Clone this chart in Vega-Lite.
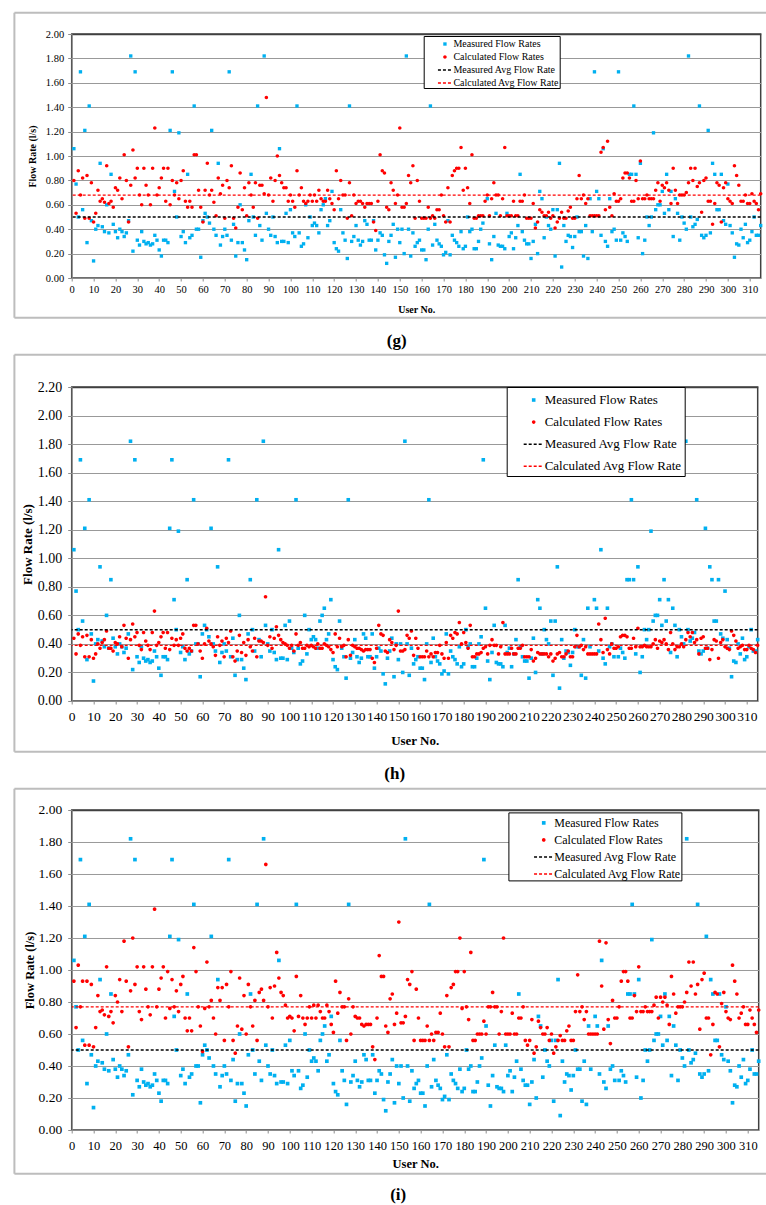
{
"$schema": "https://vega.github.io/schema/vega-lite/v6.json",
"background": "white",
"padding": {"top": 10, "left": 11.7, "right": 0, "bottom": 0},
"spacing": 109,
"bounds": "flush",
"resolve": {"scale": {"x": "independent", "y": "independent", "fill": "independent", "stroke": "independent", "shape": "independent", "strokeDash": "independent"}, "legend": {"fill": "independent", "stroke": "independent", "shape": "independent", "strokeDash": "independent"}},
"config": {
  "font": "Liberation Serif",
  "view": {"stroke": "#404040", "strokeWidth": 1.5},
  "axis": {"labelColor": "#000000", "titleColor": "#000000", "domainColor": "#8c8c8c", "tickColor": "#8c8c8c", "labelFont": "Liberation Serif", "titleFont": "Liberation Serif", "titleFontWeight": "bold", "gridColor": "#999999", "labelOverlap": false},
  "legend": {"labelFont": "Liberation Serif", "labelColor": "#000000"},
  "title": {"font": "Liberation Serif"}
},
"datasets": {"flow": [
{"u":1,"m":1.06,"g":0.80,"h":0.44,"i":0.93},
{"u":2,"m":0.77,"g":0.53,"h":0.33,"i":0.64},
{"u":3,"m":0.50,"g":0.88,"h":0.47,"i":1.03},
{"u":4,"m":1.69,"g":0.68,"h":0.39,"i":0.77},
{"u":5,"m":0.56,"g":0.82,"h":0.45,"i":0.93},
{"u":6,"m":1.21,"g":0.49,"h":0.31,"i":0.53},
{"u":7,"m":0.29,"g":0.84,"h":0.46,"i":0.93},
{"u":8,"m":1.41,"g":0.49,"h":0.31,"i":0.53},
{"u":9,"m":0.47,"g":0.78,"h":0.43,"i":0.91},
{"u":10,"m":0.14,"g":0.46,"h":0.30,"i":0.52},
{"u":11,"m":0.40,"g":0.53,"h":0.33,"i":0.64},
{"u":12,"m":0.43,"g":0.72,"h":0.40,"i":0.84},
{"u":13,"m":0.94,"g":0.63,"h":0.37,"i":0.74},
{"u":14,"m":0.42,"g":0.65,"h":0.41,"i":0.75},
{"u":15,"m":0.38,"g":0.62,"h":0.43,"i":0.72},
{"u":16,"m":0.60,"g":0.92,"h":0.49,"i":1.02},
{"u":17,"m":0.37,"g":0.61,"h":0.37,"i":0.71},
{"u":18,"m":0.85,"g":0.63,"h":0.37,"i":0.74},
{"u":19,"m":0.44,"g":0.58,"h":0.35,"i":0.67},
{"u":20,"m":0.38,"g":0.74,"h":0.41,"i":0.84},
{"u":21,"m":0.33,"g":0.72,"h":0.40,"i":0.80},
{"u":22,"m":0.40,"g":0.82,"h":0.45,"i":0.94},
{"u":23,"m":0.38,"g":0.65,"h":0.38,"i":0.74},
{"u":24,"m":0.34,"g":1.01,"h":0.53,"i":1.18},
{"u":25,"m":0.37,"g":0.80,"h":0.44,"i":0.93},
{"u":26,"m":0.47,"g":0.46,"h":0.30,"i":0.52},
{"u":27,"m":1.82,"g":0.76,"h":0.43,"i":0.87},
{"u":28,"m":0.22,"g":1.05,"h":0.54,"i":1.20},
{"u":29,"m":1.69,"g":0.82,"h":0.45,"i":0.91},
{"u":30,"m":0.31,"g":0.90,"h":0.48,"i":1.02},
{"u":31,"m":0.27,"g":0.68,"h":0.39,"i":0.74},
{"u":32,"m":0.38,"g":0.60,"h":0.36,"i":0.69},
{"u":33,"m":0.30,"g":0.90,"h":0.48,"i":1.02},
{"u":34,"m":0.28,"g":0.76,"h":0.42,"i":0.88},
{"u":35,"m":0.29,"g":0.68,"h":0.39,"i":0.77},
{"u":36,"m":0.27,"g":0.60,"h":0.36,"i":0.72},
{"u":37,"m":0.28,"g":0.90,"h":0.48,"i":1.02},
{"u":38,"m":0.35,"g":1.23,"h":0.63,"i":1.38},
{"u":39,"m":0.31,"g":0.68,"h":0.39,"i":0.77},
{"u":40,"m":0.23,"g":0.74,"h":0.41,"i":0.88},
{"u":41,"m":0.18,"g":0.82,"h":0.45,"i":0.95},
{"u":42,"m":0.31,"g":0.90,"h":0.48,"i":1.02},
{"u":43,"m":0.31,"g":0.63,"h":0.37,"i":0.70},
{"u":44,"m":0.29,"g":0.90,"h":0.48,"i":0.99},
{"u":45,"m":1.21,"g":0.60,"h":0.36,"i":0.76},
{"u":46,"m":1.69,"g":0.80,"h":0.44,"i":0.94},
{"u":47,"m":0.71,"g":0.68,"h":0.39,"i":0.77},
{"u":48,"m":0.50,"g":0.78,"h":0.43,"i":0.87},
{"u":49,"m":1.19,"g":0.65,"h":0.39,"i":0.74},
{"u":50,"m":0.34,"g":0.80,"h":0.44,"i":0.91},
{"u":51,"m":0.38,"g":0.88,"h":0.47,"i":0.96},
{"u":52,"m":0.29,"g":0.63,"h":0.37,"i":0.70},
{"u":53,"m":0.85,"g":0.58,"h":0.35,"i":0.62},
{"u":54,"m":0.33,"g":0.63,"h":0.37,"i":0.70},
{"u":55,"m":0.35,"g":0.58,"h":0.35,"i":0.62},
{"u":56,"m":1.41,"g":1.01,"h":0.53,"i":1.14},
{"u":57,"m":0.40,"g":1.01,"h":0.53,"i":0.99},
{"u":58,"m":0.40,"g":0.72,"h":0.40,"i":0.77},
{"u":59,"m":0.17,"g":0.58,"h":0.35,"i":0.65},
{"u":60,"m":0.47,"g":0.46,"h":0.30,"i":0.49},
{"u":61,"m":0.53,"g":0.72,"h":0.40,"i":0.76},
{"u":62,"m":0.50,"g":0.94,"h":0.51,"i":1.05},
{"u":63,"m":0.45,"g":0.68,"h":0.42,"i":0.77},
{"u":64,"m":1.21,"g":0.72,"h":0.40,"i":0.81},
{"u":65,"m":0.40,"g":0.62,"h":0.38,"i":0.70},
{"u":66,"m":0.35,"g":0.51,"h":0.32,"i":0.60},
{"u":67,"m":0.94,"g":0.82,"h":0.45,"i":0.89},
{"u":68,"m":0.27,"g":0.69,"h":0.39,"i":0.81},
{"u":69,"m":0.34,"g":0.76,"h":0.42,"i":0.89},
{"u":70,"m":0.40,"g":0.49,"h":0.31,"i":0.56},
{"u":71,"m":0.35,"g":0.80,"h":0.44,"i":0.91},
{"u":72,"m":1.69,"g":0.74,"h":0.41,"i":0.77},
{"u":73,"m":0.31,"g":0.92,"h":0.49,"i":0.99},
{"u":74,"m":0.44,"g":0.49,"h":0.31,"i":0.56},
{"u":75,"m":0.18,"g":0.41,"h":0.28,"i":0.48},
{"u":76,"m":0.29,"g":0.58,"h":0.35,"i":0.65},
{"u":77,"m":0.60,"g":0.86,"h":0.46,"i":0.95},
{"u":78,"m":0.29,"g":0.56,"h":0.34,"i":0.63},
{"u":79,"m":0.23,"g":0.74,"h":0.41,"i":0.84},
{"u":80,"m":0.15,"g":0.51,"h":0.32,"i":0.60},
{"u":81,"m":0.47,"g":0.78,"h":0.43,"i":0.91},
{"u":82,"m":0.85,"g":0.68,"h":0.38,"i":0.77},
{"u":83,"m":0.50,"g":0.58,"h":0.35,"i":0.65},
{"u":84,"m":0.35,"g":0.78,"h":0.44,"i":0.81},
{"u":85,"m":1.41,"g":0.49,"h":0.31,"i":0.56},
{"u":86,"m":0.43,"g":0.76,"h":0.42,"i":0.86},
{"u":87,"m":0.31,"g":0.76,"h":0.42,"i":0.88},
{"u":88,"m":1.82,"g":0.69,"h":0.41,"i":0.81},
{"u":89,"m":0.53,"g":1.48,"h":0.73,"i":1.66},
{"u":90,"m":0.40,"g":0.68,"h":0.39,"i":0.77},
{"u":91,"m":0.35,"g":0.82,"h":0.45,"i":0.89},
{"u":92,"m":0.50,"g":0.63,"h":0.37,"i":0.70},
{"u":93,"m":0.34,"g":0.80,"h":0.44,"i":0.90},
{"u":94,"m":0.29,"g":1.00,"h":0.52,"i":1.11},
{"u":95,"m":1.06,"g":0.84,"h":0.46,"i":0.95},
{"u":96,"m":0.30,"g":0.78,"h":0.43,"i":0.86},
{"u":97,"m":0.30,"g":0.74,"h":0.41,"i":0.84},
{"u":98,"m":0.53,"g":0.74,"h":0.40,"i":0.78},
{"u":99,"m":0.29,"g":0.63,"h":0.39,"i":0.70},
{"u":100,"m":0.56,"g":0.68,"h":0.37,"i":0.71},
{"u":101,"m":0.37,"g":0.63,"h":0.39,"i":0.70},
{"u":102,"m":0.34,"g":0.58,"h":0.35,"i":0.62},
{"u":103,"m":1.41,"g":0.88,"h":0.47,"i":0.96},
{"u":104,"m":0.37,"g":0.68,"h":0.39,"i":0.71},
{"u":105,"m":0.26,"g":0.74,"h":0.41,"i":0.84},
{"u":106,"m":0.28,"g":0.63,"h":0.37,"i":0.70},
{"u":107,"m":0.60,"g":0.61,"h":0.37,"i":0.66},
{"u":108,"m":0.33,"g":0.63,"h":0.39,"i":0.70},
{"u":109,"m":0.50,"g":0.68,"h":0.38,"i":0.77},
{"u":110,"m":0.43,"g":0.63,"h":0.39,"i":0.70},
{"u":111,"m":0.45,"g":0.68,"h":0.38,"i":0.78},
{"u":112,"m":0.43,"g":0.63,"h":0.37,"i":0.70},
{"u":113,"m":0.37,"g":0.72,"h":0.40,"i":0.78},
{"u":114,"m":0.56,"g":0.65,"h":0.37,"i":0.74},
{"u":115,"m":0.60,"g":0.63,"h":0.37,"i":0.70},
{"u":116,"m":0.65,"g":0.63,"h":0.40,"i":0.70},
{"u":117,"m":0.43,"g":0.72,"h":0.39,"i":0.78},
{"u":118,"m":0.47,"g":0.65,"h":0.38,"i":0.74},
{"u":119,"m":0.71,"g":0.61,"h":0.36,"i":0.66},
{"u":120,"m":0.29,"g":0.56,"h":0.34,"i":0.61},
{"u":121,"m":0.24,"g":0.88,"h":0.47,"i":0.93},
{"u":122,"m":0.22,"g":0.65,"h":0.38,"i":0.73},
{"u":123,"m":0.56,"g":0.80,"h":0.44,"i":0.86},
{"u":124,"m":0.37,"g":0.68,"h":0.38,"i":0.77},
{"u":125,"m":0.31,"g":0.68,"h":0.39,"i":0.77},
{"u":126,"m":0.16,"g":0.49,"h":0.31,"i":0.56},
{"u":127,"m":1.41,"g":0.78,"h":0.43,"i":0.82},
{"u":128,"m":0.30,"g":0.51,"h":0.32,"i":0.60},
{"u":129,"m":0.34,"g":0.68,"h":0.39,"i":0.77},
{"u":130,"m":0.43,"g":0.61,"h":0.38,"i":0.71},
{"u":131,"m":0.31,"g":0.63,"h":0.37,"i":0.70},
{"u":132,"m":0.27,"g":0.63,"h":0.37,"i":0.70},
{"u":133,"m":0.30,"g":0.61,"h":0.36,"i":0.66},
{"u":134,"m":0.47,"g":0.58,"h":0.35,"i":0.65},
{"u":135,"m":0.44,"g":0.61,"h":0.36,"i":0.66},
{"u":136,"m":0.31,"g":0.61,"h":0.36,"i":0.66},
{"u":137,"m":0.31,"g":0.61,"h":0.36,"i":0.66},
{"u":138,"m":0.47,"g":0.46,"h":0.30,"i":0.52},
{"u":139,"m":0.23,"g":0.39,"h":0.27,"i":0.44},
{"u":140,"m":0.31,"g":0.63,"h":0.37,"i":0.70},
{"u":141,"m":0.37,"g":1.01,"h":0.53,"i":1.09},
{"u":142,"m":0.35,"g":0.88,"h":0.47,"i":0.96},
{"u":143,"m":0.19,"g":0.86,"h":0.46,"i":0.96},
{"u":144,"m":0.12,"g":0.58,"h":0.35,"i":0.65},
{"u":145,"m":0.30,"g":0.56,"h":0.34,"i":0.61},
{"u":146,"m":0.35,"g":0.78,"h":0.43,"i":0.82},
{"u":147,"m":0.44,"g":0.72,"h":0.41,"i":0.85},
{"u":148,"m":0.17,"g":0.61,"h":0.36,"i":0.66},
{"u":149,"m":0.40,"g":0.68,"h":0.39,"i":0.73},
{"u":150,"m":0.29,"g":1.23,"h":0.63,"i":1.30},
{"u":151,"m":0.40,"g":0.58,"h":0.35,"i":0.67},
{"u":152,"m":0.20,"g":0.58,"h":0.35,"i":0.67},
{"u":153,"m":1.82,"g":0.61,"h":0.36,"i":0.71},
{"u":154,"m":0.40,"g":0.84,"h":0.46,"i":0.94},
{"u":155,"m":0.18,"g":0.78,"h":0.44,"i":0.91},
{"u":156,"m":0.37,"g":0.92,"h":0.49,"i":0.99},
{"u":157,"m":0.26,"g":0.49,"h":0.32,"i":0.56},
{"u":158,"m":0.29,"g":0.80,"h":0.44,"i":0.88},
{"u":159,"m":0.31,"g":0.63,"h":0.37,"i":0.70},
{"u":160,"m":0.23,"g":0.49,"h":0.31,"i":0.56},
{"u":161,"m":0.23,"g":0.49,"h":0.31,"i":0.56},
{"u":162,"m":0.15,"g":0.49,"h":0.31,"i":0.56},
{"u":163,"m":0.40,"g":0.58,"h":0.35,"i":0.65},
{"u":164,"m":1.41,"g":0.49,"h":0.31,"i":0.56},
{"u":165,"m":0.27,"g":0.51,"h":0.33,"i":0.60},
{"u":166,"m":0.44,"g":0.49,"h":0.31,"i":0.56},
{"u":167,"m":0.31,"g":0.56,"h":0.34,"i":0.61},
{"u":168,"m":0.28,"g":0.56,"h":0.34,"i":0.61},
{"u":169,"m":0.26,"g":0.68,"h":0.39,"i":0.73},
{"u":170,"m":0.19,"g":0.51,"h":0.33,"i":0.60},
{"u":171,"m":0.21,"g":0.46,"h":0.30,"i":0.52},
{"u":172,"m":0.47,"g":0.74,"h":0.41,"i":0.84},
{"u":173,"m":0.19,"g":0.46,"h":0.30,"i":0.52},
{"u":174,"m":0.35,"g":0.84,"h":0.46,"i":0.89},
{"u":175,"m":0.31,"g":0.88,"h":0.44,"i":0.91},
{"u":176,"m":0.29,"g":0.90,"h":0.48,"i":0.99},
{"u":177,"m":0.26,"g":0.90,"h":0.47,"i":0.99},
{"u":178,"m":0.38,"g":1.07,"h":0.55,"i":1.20},
{"u":179,"m":0.24,"g":0.72,"h":0.40,"i":0.76},
{"u":180,"m":0.26,"g":0.90,"h":0.48,"i":0.99},
{"u":181,"m":0.50,"g":0.74,"h":0.41,"i":0.77},
{"u":182,"m":0.38,"g":0.61,"h":0.37,"i":0.69},
{"u":183,"m":0.40,"g":1.01,"h":0.53,"i":1.11},
{"u":184,"m":0.24,"g":0.49,"h":0.31,"i":0.56},
{"u":185,"m":0.24,"g":0.49,"h":0.31,"i":0.56},
{"u":186,"m":0.30,"g":0.51,"h":0.33,"i":0.60},
{"u":187,"m":0.40,"g":0.51,"h":0.33,"i":0.60},
{"u":188,"m":0.45,"g":0.51,"h":0.34,"i":0.60},
{"u":189,"m":1.69,"g":0.63,"h":0.37,"i":0.68},
{"u":190,"m":0.65,"g":0.68,"h":0.38,"i":0.60},
{"u":191,"m":0.28,"g":0.51,"h":0.33,"i":0.77},
{"u":192,"m":0.15,"g":0.65,"h":0.39,"i":0.77},
{"u":193,"m":0.34,"g":0.78,"h":0.43,"i":0.86},
{"u":194,"m":0.53,"g":0.68,"h":0.39,"i":0.77},
{"u":195,"m":0.27,"g":0.68,"h":0.39,"i":0.77},
{"u":196,"m":0.26,"g":0.51,"h":0.33,"i":0.60},
{"u":197,"m":0.26,"g":0.65,"h":0.38,"i":0.74},
{"u":198,"m":0.24,"g":1.07,"h":0.55,"i":1.20},
{"u":199,"m":0.53,"g":0.51,"h":0.33,"i":0.60},
{"u":200,"m":0.34,"g":0.51,"h":0.33,"i":0.60},
{"u":201,"m":0.37,"g":0.51,"h":0.33,"i":0.60},
{"u":202,"m":0.24,"g":0.63,"h":0.37,"i":0.73},
{"u":203,"m":0.33,"g":0.51,"h":0.33,"i":0.60},
{"u":204,"m":0.43,"g":0.51,"h":0.33,"i":0.60},
{"u":205,"m":0.85,"g":0.63,"h":0.37,"i":0.70},
{"u":206,"m":0.38,"g":0.63,"h":0.37,"i":0.70},
{"u":207,"m":0.31,"g":0.68,"h":0.39,"i":0.77},
{"u":208,"m":0.28,"g":0.49,"h":0.31,"i":0.56},
{"u":209,"m":0.28,"g":0.49,"h":0.31,"i":0.53},
{"u":210,"m":0.16,"g":0.49,"h":0.31,"i":0.56},
{"u":211,"m":0.30,"g":0.61,"h":0.36,"i":0.69},
{"u":212,"m":0.44,"g":0.41,"h":0.28,"i":0.48},
{"u":213,"m":0.20,"g":0.46,"h":0.30,"i":0.52},
{"u":214,"m":0.71,"g":0.56,"h":0.34,"i":0.68},
{"u":215,"m":0.65,"g":0.54,"h":0.33,"i":0.64},
{"u":216,"m":0.33,"g":0.51,"h":0.33,"i":0.60},
{"u":217,"m":0.50,"g":0.51,"h":0.33,"i":0.60},
{"u":218,"m":0.43,"g":0.54,"h":0.33,"i":0.64},
{"u":219,"m":0.40,"g":0.49,"h":0.31,"i":0.56},
{"u":220,"m":0.56,"g":0.51,"h":0.33,"i":0.60},
{"u":221,"m":0.18,"g":0.41,"h":0.28,"i":0.48},
{"u":222,"m":0.56,"g":0.46,"h":0.30,"i":0.52},
{"u":223,"m":0.94,"g":0.49,"h":0.33,"i":0.56},
{"u":224,"m":0.09,"g":0.54,"h":0.34,"i":0.59},
{"u":225,"m":0.43,"g":0.49,"h":0.31,"i":0.56},
{"u":226,"m":0.30,"g":0.49,"h":0.31,"i":0.56},
{"u":227,"m":0.35,"g":0.55,"h":0.33,"i":0.62},
{"u":228,"m":0.34,"g":0.58,"h":0.35,"i":0.65},
{"u":229,"m":0.25,"g":0.49,"h":0.31,"i":0.56},
{"u":230,"m":0.34,"g":0.49,"h":0.31,"i":0.56},
{"u":231,"m":0.50,"g":0.65,"h":0.38,"i":0.74},
{"u":232,"m":0.38,"g":0.84,"h":0.46,"i":0.97},
{"u":233,"m":0.38,"g":0.65,"h":0.38,"i":0.74},
{"u":234,"m":0.18,"g":0.68,"h":0.39,"i":0.77},
{"u":235,"m":0.43,"g":0.61,"h":0.36,"i":0.69},
{"u":236,"m":0.16,"g":0.65,"h":0.38,"i":0.74},
{"u":237,"m":0.65,"g":0.51,"h":0.33,"i":0.60},
{"u":238,"m":0.38,"g":0.51,"h":0.33,"i":0.60},
{"u":239,"m":1.69,"g":0.51,"h":0.33,"i":0.60},
{"u":240,"m":0.71,"g":0.51,"h":0.33,"i":0.60},
{"u":241,"m":0.65,"g":0.51,"h":0.33,"i":0.60},
{"u":242,"m":0.35,"g":1.03,"h":0.54,"i":1.18},
{"u":243,"m":1.06,"g":1.07,"h":0.43,"i":0.90},
{"u":244,"m":0.30,"g":0.56,"h":0.34,"i":0.63},
{"u":245,"m":0.26,"g":1.12,"h":0.58,"i":1.17},
{"u":246,"m":0.65,"g":0.58,"h":0.36,"i":0.69},
{"u":247,"m":0.38,"g":0.51,"h":0.33,"i":0.54},
{"u":248,"m":0.40,"g":0.69,"h":0.40,"i":0.81},
{"u":249,"m":0.31,"g":0.63,"h":0.37,"i":0.70},
{"u":250,"m":1.69,"g":0.63,"h":0.37,"i":0.70},
{"u":251,"m":0.31,"g":0.65,"h":0.38,"i":0.77},
{"u":252,"m":0.37,"g":0.82,"h":0.45,"i":0.93},
{"u":253,"m":0.34,"g":0.86,"h":0.46,"i":0.99},
{"u":254,"m":0.30,"g":0.86,"h":0.46,"i":0.99},
{"u":255,"m":0.85,"g":0.82,"h":0.45,"i":0.93},
{"u":256,"m":0.85,"g":0.63,"h":0.37,"i":0.70},
{"u":257,"m":1.41,"g":0.63,"h":0.37,"i":0.70},
{"u":258,"m":0.85,"g":0.80,"h":0.44,"i":0.84},
{"u":259,"m":0.33,"g":0.65,"h":0.38,"i":0.74},
{"u":260,"m":0.94,"g":0.96,"h":0.51,"i":1.02},
{"u":261,"m":0.20,"g":0.65,"h":0.38,"i":0.74},
{"u":262,"m":0.31,"g":0.65,"h":0.38,"i":0.74},
{"u":263,"m":0.50,"g":0.68,"h":0.39,"i":0.77},
{"u":264,"m":0.43,"g":0.65,"h":0.38,"i":0.74},
{"u":265,"m":0.50,"g":0.65,"h":0.38,"i":0.74},
{"u":266,"m":1.19,"g":0.65,"h":0.38,"i":0.74},
{"u":267,"m":0.56,"g":0.72,"h":0.40,"i":0.78},
{"u":268,"m":0.60,"g":0.78,"h":0.43,"i":0.83},
{"u":269,"m":0.60,"g":0.63,"h":0.37,"i":0.70},
{"u":270,"m":0.71,"g":0.76,"h":0.42,"i":0.83},
{"u":271,"m":0.53,"g":0.74,"h":0.41,"i":0.80},
{"u":272,"m":0.85,"g":0.78,"h":0.43,"i":0.83},
{"u":273,"m":0.56,"g":0.72,"h":0.40,"i":0.78},
{"u":274,"m":0.71,"g":0.61,"h":0.36,"i":0.66},
{"u":275,"m":0.34,"g":0.90,"h":0.48,"i":0.96},
{"u":276,"m":0.65,"g":0.72,"h":0.40,"i":0.85},
{"u":277,"m":0.53,"g":0.61,"h":0.36,"i":0.73},
{"u":278,"m":0.31,"g":0.68,"h":0.38,"i":0.77},
{"u":279,"m":0.50,"g":0.68,"h":0.38,"i":0.77},
{"u":280,"m":0.45,"g":0.68,"h":0.40,"i":0.77},
{"u":281,"m":0.40,"g":0.70,"h":0.38,"i":0.80},
{"u":282,"m":1.82,"g":0.78,"h":0.43,"i":0.86},
{"u":283,"m":0.50,"g":0.90,"h":0.48,"i":1.05},
{"u":284,"m":0.42,"g":0.80,"h":0.45,"i":0.90},
{"u":285,"m":0.44,"g":0.90,"h":0.48,"i":1.05},
{"u":286,"m":0.48,"g":0.75,"h":0.41,"i":0.85},
{"u":287,"m":1.41,"g":0.78,"h":0.43,"i":0.91},
{"u":288,"m":0.35,"g":0.54,"h":0.33,"i":0.63},
{"u":289,"m":0.33,"g":0.80,"h":0.44,"i":0.94},
{"u":290,"m":0.35,"g":0.82,"h":0.45,"i":0.98},
{"u":291,"m":1.21,"g":0.63,"h":0.37,"i":0.70},
{"u":292,"m":0.37,"g":0.63,"h":0.37,"i":0.70},
{"u":293,"m":0.94,"g":0.44,"h":0.29,"i":0.47},
{"u":294,"m":0.85,"g":0.61,"h":0.36,"i":0.66},
{"u":295,"m":0.56,"g":0.78,"h":0.43,"i":0.86},
{"u":296,"m":0.56,"g":0.76,"h":0.42,"i":0.85},
{"u":297,"m":0.85,"g":0.46,"h":0.30,"i":0.52},
{"u":298,"m":0.47,"g":0.74,"h":0.41,"i":0.79},
{"u":299,"m":0.44,"g":0.78,"h":0.43,"i":0.86},
{"u":300,"m":0.77,"g":0.65,"h":0.38,"i":0.74},
{"u":301,"m":0.43,"g":0.63,"h":0.37,"i":0.70},
{"u":302,"m":0.37,"g":0.61,"h":0.36,"i":0.69},
{"u":303,"m":0.17,"g":0.92,"h":0.49,"i":1.03},
{"u":304,"m":0.28,"g":0.84,"h":0.46,"i":0.93},
{"u":305,"m":0.27,"g":0.76,"h":0.42,"i":0.85},
{"u":306,"m":0.40,"g":0.63,"h":0.37,"i":0.70},
{"u":307,"m":0.33,"g":0.63,"h":0.38,"i":0.73},
{"u":308,"m":0.44,"g":0.68,"h":0.39,"i":0.77},
{"u":309,"m":0.29,"g":0.61,"h":0.36,"i":0.66},
{"u":310,"m":0.31,"g":0.61,"h":0.36,"i":0.66},
{"u":311,"m":0.38,"g":0.69,"h":0.39,"i":0.75},
{"u":312,"m":0.50,"g":0.63,"h":0.37,"i":0.70},
{"u":313,"m":0.35,"g":0.61,"h":0.36,"i":0.66},
{"u":314,"m":0.35,"g":0.56,"h":0.34,"i":0.61},
{"u":315,"m":0.43,"g":0.69,"h":0.39,"i":0.75}
]},
"vconcat": [
{
  "width": 689, "height": 244,
  "data": {"name": "flow"},
  "title": {"text": "(g)", "orient": "bottom", "frame": "group", "anchor": "middle", "dx": -19.5, "offset": 14, "fontSize": 17, "fontWeight": "bold", "font": "Liberation Serif", "color": "#000000"},
  "layer": [
    {"mark": {"type": "point", "filled": true, "opacity": 1, "size": 196},
     "encoding": {
       "x": {"field": "u", "type": "quantitative", "scale": {"domain": [0, 315], "nice": false, "zero": false},
             "axis": {"title": "User No.", "values": [0,10,20,30,40,50,60,70,80,90,100,110,120,130,140,150,160,170,180,190,200,210,220,230,240,250,260,270,280,290,300,310], "tickCount": 40, "grid": false, "tickSize": 3, "labelPadding": 3, "labelFont": "Liberation Serif", "titleFont": "Liberation Serif", "labelFontSize": 10.5, "titleFontSize": 10, "titlePadding": 10, "labelOverlap": false, "labelFlush": false}},
       "y": {"field": "m", "type": "quantitative", "scale": {"domain": [0, 2], "nice": false},
             "axis": {"title": "Flow Rate (l/s)", "values": [0,0.2,0.4,0.6,0.8,1,1.2,1.4,1.6,1.8,2], "tickCount": 20, "format": ".2f", "tickSize": 4, "labelPadding": 4, "labelFont": "Liberation Serif", "titleFont": "Liberation Serif", "labelFontSize": 10.5, "titleFontSize": 10, "titlePadding": 8, "labelOverlap": false,
                      "gridColor": {"condition": {"test": "datum.value >= 1.99", "value": "#404040"}, "value": "#999999"},
                      "gridWidth": {"condition": {"test": "datum.value >= 1.99", "value": 1.5}, "value": 1}}},
       "fill": {"datum": "Measured Flow Rates",
                "scale": {"domain": ["Measured Flow Rates", "Calculated Flow Rates", "Measured Avg Flow Rate", "Calculated Avg Flow Rate"], "range": ["#00B0F0", "#FF0000", "transparent", "transparent"]},
                "legend": {"title": "\u00a0", "titleOrient": "left", "titleFontSize": 1, "titlePadding": 13.25, "orient": "none", "legendX": 352, "legendY": 2, "fillColor": "#ffffff", "strokeColor": "#000000", "padding": 0, "symbolSize": 196, "symbolStrokeWidth": 1.5, "symbolOpacity": 1, "labelOffset": 0.5, "rowPadding": 0, "labelFontSize": 10, "labelLimit": 400}},
       "shape": {"datum": "Measured Flow Rates",
                 "scale": {"domain": ["Measured Flow Rates", "Calculated Flow Rates", "Measured Avg Flow Rate", "Calculated Avg Flow Rate"], "range": ["M-0.24,-0.24H0.24V0.24H-0.24Z", "M0.25,0A0.25,0.25,0,1,1,-0.25,0A0.25,0.25,0,1,1,0.25,0Z", "stroke", "stroke"]},
                 "legend": {"title": "\u00a0", "titleOrient": "left", "titleFontSize": 1, "titlePadding": 13.25, "orient": "none", "legendX": 352, "legendY": 2, "fillColor": "#ffffff", "strokeColor": "#000000", "padding": 0, "symbolSize": 196, "symbolStrokeWidth": 1.5, "symbolOpacity": 1, "labelOffset": 0.5, "rowPadding": 0, "labelFontSize": 10, "labelLimit": 400}}
     }},
    {"mark": {"type": "point", "filled": true, "opacity": 1, "size": 196},
     "encoding": {"x": {"field": "u", "type": "quantitative"}, "y": {"field": "g", "type": "quantitative"},
                  "fill": {"datum": "Calculated Flow Rates"}, "shape": {"datum": "Calculated Flow Rates"}}},
    {"data": {"values": [{"avg": 0.50}]}, "mark": {"type": "rule", "strokeWidth": 1.5},
     "encoding": {"y": {"field": "avg", "type": "quantitative"},
                  "stroke": {"datum": "Measured Avg Flow Rate", "scale": {"domain": ["Measured Flow Rates", "Calculated Flow Rates", "Measured Avg Flow Rate", "Calculated Avg Flow Rate"], "range": ["transparent", "transparent", "#000000", "#FF0000"]},
                             "legend": {"title": "\u00a0", "titleOrient": "left", "titleFontSize": 1, "titlePadding": 13.25, "orient": "none", "legendX": 352, "legendY": 2, "fillColor": "#ffffff", "strokeColor": "#000000", "padding": 0, "symbolSize": 196, "symbolStrokeWidth": 1.5, "symbolOpacity": 1, "labelOffset": 0.5, "rowPadding": 0, "labelFontSize": 10, "labelLimit": 400}},
                  "strokeDash": {"datum": "Measured Avg Flow Rate", "scale": {"domain": ["Measured Flow Rates", "Calculated Flow Rates", "Measured Avg Flow Rate", "Calculated Avg Flow Rate"], "range": [[1, 0], [1, 0], [3, 2], [3, 2]]},
                             "legend": {"title": "\u00a0", "titleOrient": "left", "titleFontSize": 1, "titlePadding": 13.25, "orient": "none", "legendX": 352, "legendY": 2, "fillColor": "#ffffff", "strokeColor": "#000000", "padding": 0, "symbolSize": 196, "symbolStrokeWidth": 1.5, "symbolOpacity": 1, "labelOffset": 0.5, "rowPadding": 0, "labelFontSize": 10, "labelLimit": 400}}}},
    {"data": {"values": [{"avg": 0.68}]}, "mark": {"type": "rule", "strokeWidth": 1.2},
     "encoding": {"y": {"field": "avg", "type": "quantitative"},
                  "stroke": {"datum": "Calculated Avg Flow Rate"}, "strokeDash": {"datum": "Calculated Avg Flow Rate"}}},
    {"data": {"values": [{}]}, "mark": {"type": "rule", "color": "#bdbdbd", "strokeWidth": 2},
     "encoding": {"x": {"datum": -26.2}, "x2": {"datum": 317.88}, "y": {"datum": 2.1746}}},
    {"data": {"values": [{}]}, "mark": {"type": "rule", "color": "#bdbdbd", "strokeWidth": 2},
     "encoding": {"x": {"datum": -26.2}, "x2": {"datum": 317.88}, "y": {"datum": -0.3254}}},
    {"data": {"values": [{}]}, "mark": {"type": "rule", "color": "#bdbdbd", "strokeWidth": 2},
     "encoding": {"x": {"datum": -26.2}, "y": {"datum": -0.3254}, "y2": {"datum": 2.1746}}}
  ]
},
{
  "width": 686, "height": 314,
  "data": {"name": "flow"},
  "title": {"text": "(h)", "orient": "bottom", "frame": "group", "anchor": "middle", "dx": -20, "offset": 13, "fontSize": 17, "fontWeight": "bold", "font": "Liberation Serif", "color": "#000000"},
  "layer": [
    {"mark": {"type": "point", "filled": true, "opacity": 1, "size": 400},
     "encoding": {
       "x": {"field": "u", "type": "quantitative", "scale": {"domain": [0, 315], "nice": false, "zero": false},
             "axis": {"title": "User No.", "values": [0,10,20,30,40,50,60,70,80,90,100,110,120,130,140,150,160,170,180,190,200,210,220,230,240,250,260,270,280,290,300,310], "tickCount": 40, "grid": false, "tickSize": 3, "labelPadding": 6, "labelFont": "Liberation Serif", "titleFont": "Liberation Serif", "labelFontSize": 13.5, "titleFontSize": 13, "titlePadding": 11, "labelOverlap": false, "labelFlush": false}},
       "y": {"field": "m", "type": "quantitative", "scale": {"domain": [0, 2.2], "nice": false},
             "axis": {"title": "Flow Rate (l/s)", "values": [0,0.2,0.4,0.6,0.8,1,1.2,1.4,1.6,1.8,2,2.2], "tickCount": 20, "format": ".2f", "tickSize": 4, "labelPadding": 6, "labelFont": "Liberation Serif", "titleFont": "Liberation Serif", "labelFontSize": 14, "titleFontSize": 13, "titlePadding": 3, "labelOverlap": false,
                      "gridColor": {"condition": {"test": "datum.value >= 2.19", "value": "#404040"}, "value": "#999999"},
                      "gridWidth": {"condition": {"test": "datum.value >= 2.19", "value": 1.5}, "value": 1}}},
       "fill": {"datum": "Measured Flow Rates",
                "scale": {"domain": ["Measured Flow Rates", "Calculated Flow Rates", "Measured Avg Flow Rate", "Calculated Avg Flow Rate"], "range": ["#00B0F0", "#FF0000", "transparent", "transparent"]},
                "legend": {"title": "\u00a0", "titleOrient": "left", "titleFontSize": 1, "titlePadding": 14, "orient": "none", "legendX": 435, "legendY": 0, "fillColor": "#ffffff", "strokeColor": "#000000", "padding": 2, "symbolSize": 400, "symbolStrokeWidth": 1.5, "symbolOpacity": 1, "labelOffset": 0, "rowPadding": 4.1, "labelFontSize": 13, "labelLimit": 400}},
       "shape": {"datum": "Measured Flow Rates",
                 "scale": {"domain": ["Measured Flow Rates", "Calculated Flow Rates", "Measured Avg Flow Rate", "Calculated Avg Flow Rate"], "range": ["M-0.18,-0.18H0.18V0.18H-0.18Z", "M0.18,0A0.18,0.18,0,1,1,-0.18,0A0.18,0.18,0,1,1,0.18,0Z", "stroke", "stroke"]},
                 "legend": {"title": "\u00a0", "titleOrient": "left", "titleFontSize": 1, "titlePadding": 14, "orient": "none", "legendX": 435, "legendY": 0, "fillColor": "#ffffff", "strokeColor": "#000000", "padding": 2, "symbolSize": 400, "symbolStrokeWidth": 1.5, "symbolOpacity": 1, "labelOffset": 0, "rowPadding": 4.1, "labelFontSize": 13, "labelLimit": 400}}
     }},
    {"mark": {"type": "point", "filled": true, "opacity": 1, "size": 400},
     "encoding": {"x": {"field": "u", "type": "quantitative"}, "y": {"field": "h", "type": "quantitative"},
                  "fill": {"datum": "Calculated Flow Rates"}, "shape": {"datum": "Calculated Flow Rates"}}},
    {"data": {"values": [{"avg": 0.50}]}, "mark": {"type": "rule", "strokeWidth": 1.5},
     "encoding": {"y": {"field": "avg", "type": "quantitative"},
                  "stroke": {"datum": "Measured Avg Flow Rate", "scale": {"domain": ["Measured Flow Rates", "Calculated Flow Rates", "Measured Avg Flow Rate", "Calculated Avg Flow Rate"], "range": ["transparent", "transparent", "#000000", "#FF0000"]},
                             "legend": {"title": "\u00a0", "titleOrient": "left", "titleFontSize": 1, "titlePadding": 14, "orient": "none", "legendX": 435, "legendY": 0, "fillColor": "#ffffff", "strokeColor": "#000000", "padding": 2, "symbolSize": 400, "symbolStrokeWidth": 1.5, "symbolOpacity": 1, "labelOffset": 0, "rowPadding": 4.1, "labelFontSize": 13, "labelLimit": 400}},
                  "strokeDash": {"datum": "Measured Avg Flow Rate", "scale": {"domain": ["Measured Flow Rates", "Calculated Flow Rates", "Measured Avg Flow Rate", "Calculated Avg Flow Rate"], "range": [[1, 0], [1, 0], [3, 2], [3, 2]]},
                             "legend": {"title": "\u00a0", "titleOrient": "left", "titleFontSize": 1, "titlePadding": 14, "orient": "none", "legendX": 435, "legendY": 0, "fillColor": "#ffffff", "strokeColor": "#000000", "padding": 2, "symbolSize": 400, "symbolStrokeWidth": 1.5, "symbolOpacity": 1, "labelOffset": 0, "rowPadding": 4.1, "labelFontSize": 13, "labelLimit": 400}}}},
    {"data": {"values": [{"avg": 0.39}]}, "mark": {"type": "rule", "strokeWidth": 1.2},
     "encoding": {"y": {"field": "avg", "type": "quantitative"},
                  "stroke": {"datum": "Calculated Avg Flow Rate"}, "strokeDash": {"datum": "Calculated Avg Flow Rate"}}},
    {"data": {"values": [{}]}, "mark": {"type": "rule", "color": "#bdbdbd", "strokeWidth": 2},
     "encoding": {"x": {"datum": -26.31}, "x2": {"datum": 319.27}, "y": {"datum": 2.426}}},
    {"data": {"values": [{}]}, "mark": {"type": "rule", "color": "#bdbdbd", "strokeWidth": 2},
     "encoding": {"x": {"datum": -26.31}, "x2": {"datum": 319.27}, "y": {"datum": -0.3552}}},
    {"data": {"values": [{}]}, "mark": {"type": "rule", "color": "#bdbdbd", "strokeWidth": 2},
     "encoding": {"x": {"datum": -26.31}, "y": {"datum": -0.3552}, "y2": {"datum": 2.426}}}
  ]
},
{
  "width": 687, "height": 320,
  "data": {"name": "flow"},
  "title": {"text": "(i)", "orient": "bottom", "frame": "group", "anchor": "middle", "dx": -17, "offset": 12.5, "fontSize": 17, "fontWeight": "bold", "font": "Liberation Serif", "color": "#000000"},
  "layer": [
    {"mark": {"type": "point", "filled": true, "opacity": 1, "size": 376},
     "encoding": {
       "x": {"field": "u", "type": "quantitative", "scale": {"domain": [0, 315], "nice": false, "zero": false},
             "axis": {"title": "User No.", "values": [0,10,20,30,40,50,60,70,80,90,100,110,120,130,140,150,160,170,180,190,200,210,220,230,240,250,260,270,280,290,300,310], "tickCount": 40, "grid": false, "tickSize": 3, "labelPadding": 7, "labelFont": "Liberation Serif", "titleFont": "Liberation Serif", "labelFontSize": 12.5, "titleFontSize": 12.5, "titlePadding": 5, "labelOverlap": false, "labelFlush": false}},
       "y": {"field": "m", "type": "quantitative", "scale": {"domain": [0, 2], "nice": false},
             "axis": {"title": "Flow Rate (l/s)", "values": [0,0.2,0.4,0.6,0.8,1,1.2,1.4,1.6,1.8,2], "tickCount": 20, "format": ".2f", "tickSize": 4, "labelPadding": 6, "labelFont": "Liberation Serif", "titleFont": "Liberation Serif", "labelFontSize": 13.5, "titleFontSize": 12.5, "titlePadding": 2, "labelOverlap": false,
                      "gridColor": {"condition": {"test": "datum.value >= 1.99", "value": "#404040"}, "value": "#999999"},
                      "gridWidth": {"condition": {"test": "datum.value >= 1.99", "value": 1.5}, "value": 1}}},
       "fill": {"datum": "Measured Flow Rates",
                "scale": {"domain": ["Measured Flow Rates", "Calculated Flow Rates", "Measured Avg Flow Rate", "Calculated Avg Flow Rate"], "range": ["#00B0F0", "#FF0000", "transparent", "transparent"]},
                "legend": {"title": "\u00a0", "titleOrient": "left", "titleFontSize": 1, "titlePadding": 24.85, "orient": "none", "legendX": 436.7, "legendY": 2.4, "fillColor": "#ffffff", "strokeColor": "#000000", "padding": 0, "symbolSize": 376, "symbolStrokeWidth": 1.5, "symbolOpacity": 1, "labelOffset": 0, "rowPadding": 0, "labelFontSize": 12, "labelLimit": 400}},
       "shape": {"datum": "Measured Flow Rates",
                 "scale": {"domain": ["Measured Flow Rates", "Calculated Flow Rates", "Measured Avg Flow Rate", "Calculated Avg Flow Rate"], "range": ["M-0.19,-0.19H0.19V0.19H-0.19Z", "M0.19,0A0.19,0.19,0,1,1,-0.19,0A0.19,0.19,0,1,1,0.19,0Z", "stroke", "stroke"]},
                 "legend": {"title": "\u00a0", "titleOrient": "left", "titleFontSize": 1, "titlePadding": 24.85, "orient": "none", "legendX": 436.7, "legendY": 2.4, "fillColor": "#ffffff", "strokeColor": "#000000", "padding": 0, "symbolSize": 376, "symbolStrokeWidth": 1.5, "symbolOpacity": 1, "labelOffset": 0, "rowPadding": 0, "labelFontSize": 12, "labelLimit": 400}}
     }},
    {"mark": {"type": "point", "filled": true, "opacity": 1, "size": 376},
     "encoding": {"x": {"field": "u", "type": "quantitative"}, "y": {"field": "i", "type": "quantitative"},
                  "fill": {"datum": "Calculated Flow Rates"}, "shape": {"datum": "Calculated Flow Rates"}}},
    {"data": {"values": [{"avg": 0.50}]}, "mark": {"type": "rule", "strokeWidth": 1.5},
     "encoding": {"y": {"field": "avg", "type": "quantitative"},
                  "stroke": {"datum": "Measured Avg Flow Rate", "scale": {"domain": ["Measured Flow Rates", "Calculated Flow Rates", "Measured Avg Flow Rate", "Calculated Avg Flow Rate"], "range": ["transparent", "transparent", "#000000", "#FF0000"]},
                             "legend": {"title": "\u00a0", "titleOrient": "left", "titleFontSize": 1, "titlePadding": 24.85, "orient": "none", "legendX": 436.7, "legendY": 2.4, "fillColor": "#ffffff", "strokeColor": "#000000", "padding": 0, "symbolSize": 376, "symbolStrokeWidth": 1.5, "symbolOpacity": 1, "labelOffset": 0, "rowPadding": 0, "labelFontSize": 12, "labelLimit": 400}},
                  "strokeDash": {"datum": "Measured Avg Flow Rate", "scale": {"domain": ["Measured Flow Rates", "Calculated Flow Rates", "Measured Avg Flow Rate", "Calculated Avg Flow Rate"], "range": [[1, 0], [1, 0], [3, 2], [3, 2]]},
                             "legend": {"title": "\u00a0", "titleOrient": "left", "titleFontSize": 1, "titlePadding": 24.85, "orient": "none", "legendX": 436.7, "legendY": 2.4, "fillColor": "#ffffff", "strokeColor": "#000000", "padding": 0, "symbolSize": 376, "symbolStrokeWidth": 1.5, "symbolOpacity": 1, "labelOffset": 0, "rowPadding": 0, "labelFontSize": 12, "labelLimit": 400}}}},
    {"data": {"values": [{"avg": 0.77}]}, "mark": {"type": "rule", "strokeWidth": 1.2},
     "encoding": {"y": {"field": "avg", "type": "quantitative"},
                  "stroke": {"datum": "Calculated Avg Flow Rate"}, "strokeDash": {"datum": "Calculated Avg Flow Rate"}}},
    {"data": {"values": [{}]}, "mark": {"type": "rule", "color": "#bdbdbd", "strokeWidth": 2},
     "encoding": {"x": {"datum": -26.27}, "x2": {"datum": 318.81}, "y": {"datum": 2.1331}}},
    {"data": {"values": [{}]}, "mark": {"type": "rule", "color": "#bdbdbd", "strokeWidth": 2},
     "encoding": {"x": {"datum": -26.27}, "x2": {"datum": 318.81}, "y": {"datum": -0.2731}}},
    {"data": {"values": [{}]}, "mark": {"type": "rule", "color": "#bdbdbd", "strokeWidth": 2},
     "encoding": {"x": {"datum": -26.27}, "y": {"datum": -0.2731}, "y2": {"datum": 2.1331}}}
  ]
}
]
}
